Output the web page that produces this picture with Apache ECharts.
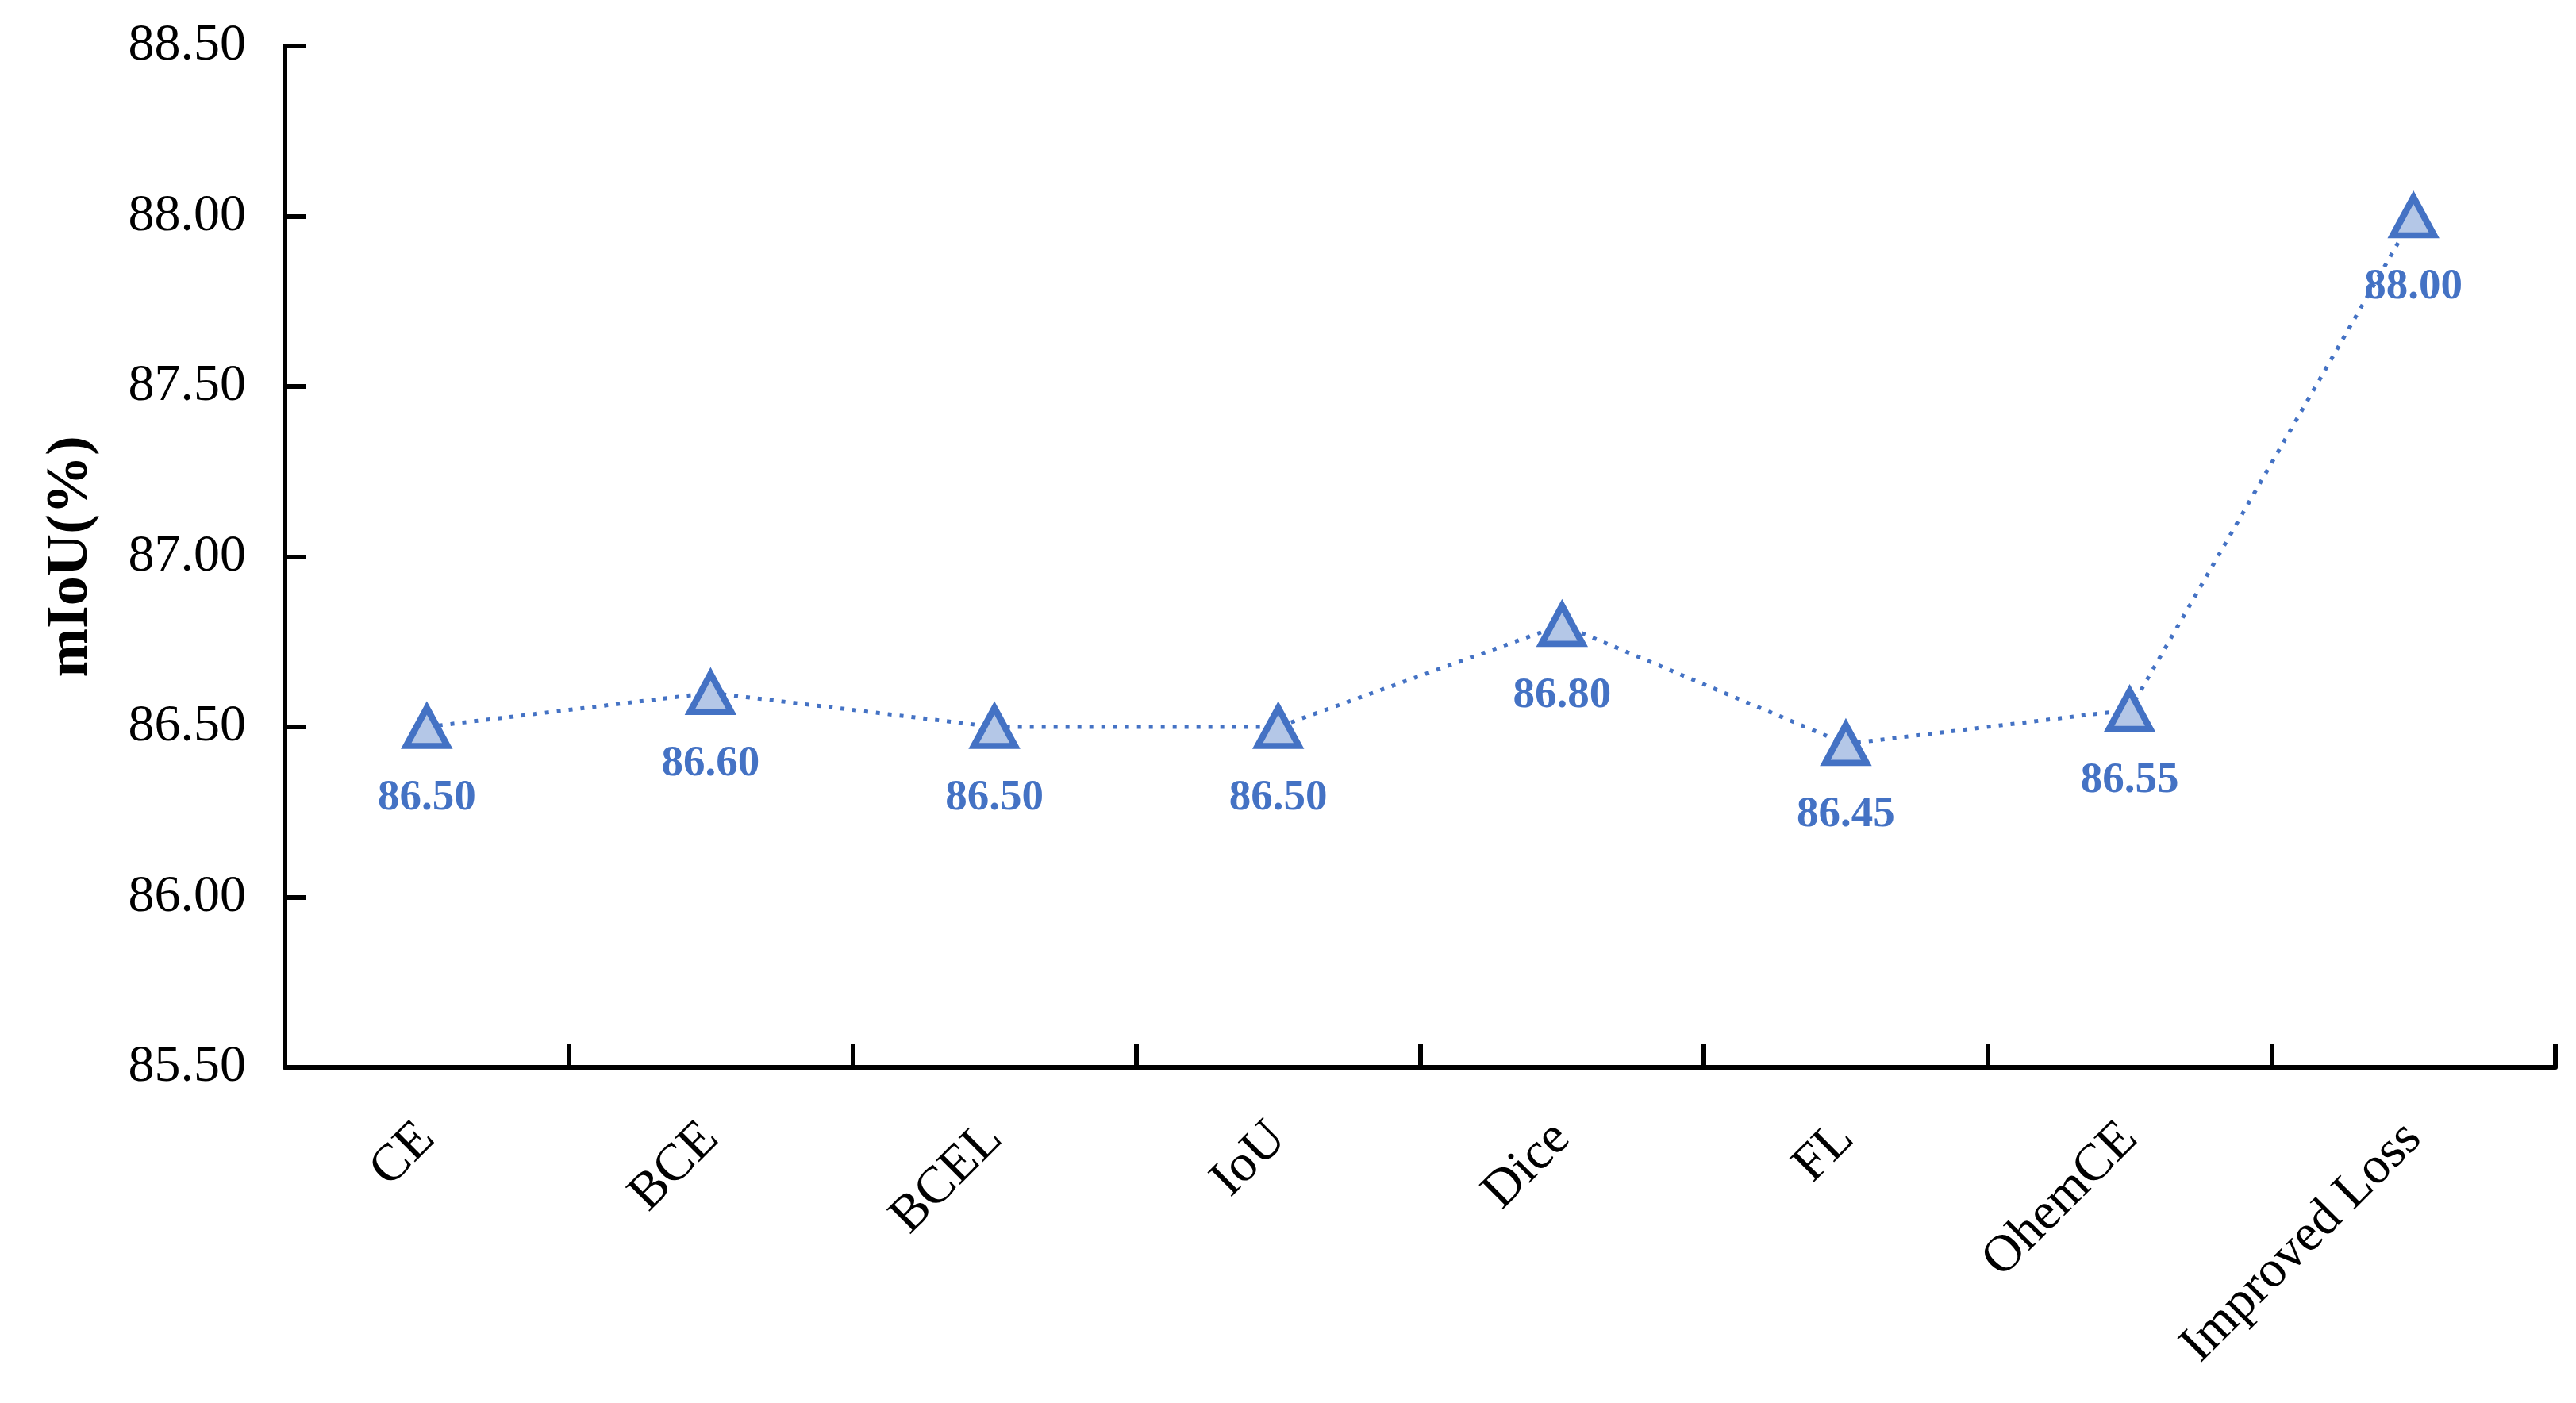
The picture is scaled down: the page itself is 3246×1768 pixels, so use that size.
<!DOCTYPE html>
<html>
<head>
<meta charset="utf-8">
<style>html,body{margin:0;padding:0;background:#fff;}#c{width:3246px;height:1768px;}</style>
<script src="https://cdn.jsdelivr.net/npm/echarts@6/dist/echarts.min.js"></script>
</head>
<body>
<div id="c"></div>
<script>
const categories = ['CE', 'BCE', 'BCEL', 'IoU', 'Dice', 'FL', 'OhemCE', 'Improved Loss'];
const miouValues = [86.50, 86.60, 86.50, 86.50, 86.80, 86.45, 86.55, 88.00];
const yMin = 85.5, yMax = 88.5, yStep = 0.5;
const yAxisTitle = 'mIoU(%)';

const chart = echarts.init(document.getElementById('c'), null, {renderer: 'canvas'});
const serif = '"Liberation Serif", "Times New Roman", Times, serif';
chart.setOption({
  backgroundColor: '#ffffff',
  animation: false,
  grid: {left: 359, right: 26, top: 58, bottom: 423},
  xAxis: {
    type: 'category',
    data: categories,
    boundaryGap: true,
    axisLine: {lineStyle: {color: '#000', width: 6}},
    axisTick: {show: true, inside: true, length: 30, lineStyle: {color: '#000', width: 6}},
    axisLabel: {rotate: 45, margin: 80, color: '#000', fontFamily: serif, fontSize: 66, interval: 0},
    splitLine: {show: false}
  },
  yAxis: {
    type: 'value',
    min: yMin, max: yMax, interval: yStep,
    name: yAxisTitle,
    nameLocation: 'middle',
    nameGap: 232,
    nameRotate: 90,
    nameTextStyle: {color: '#000', fontFamily: serif, fontSize: 74, fontWeight: 'bold'},
    axisLine: {show: true, lineStyle: {color: '#000', width: 6}},
    axisTick: {show: true, inside: true, length: 27, lineStyle: {color: '#000', width: 6}},
    axisLabel: {margin: 49, color: '#000', fontFamily: serif, fontSize: 66, formatter: v => v.toFixed(2)},
    splitLine: {show: false}
  },
  series: [{
    type: 'line',
    data: miouValues,
    symbol: 'triangle',
    symbolSize: [52, 48],
    showAllSymbol: true,
    lineStyle: {color: '#4472C4', width: 5, type: [5, 10]},
    itemStyle: {color: '#B4C7E7', borderColor: '#4472C4', borderWidth: 8},
    label: {
      show: true, position: 'bottom', distance: 34,
      color: '#4472C4', fontFamily: serif, fontSize: 55, fontWeight: 'bold',
      formatter: p => p.value.toFixed(2)
    },
    z: 3
  }]
});
</script>
</body>
</html>
